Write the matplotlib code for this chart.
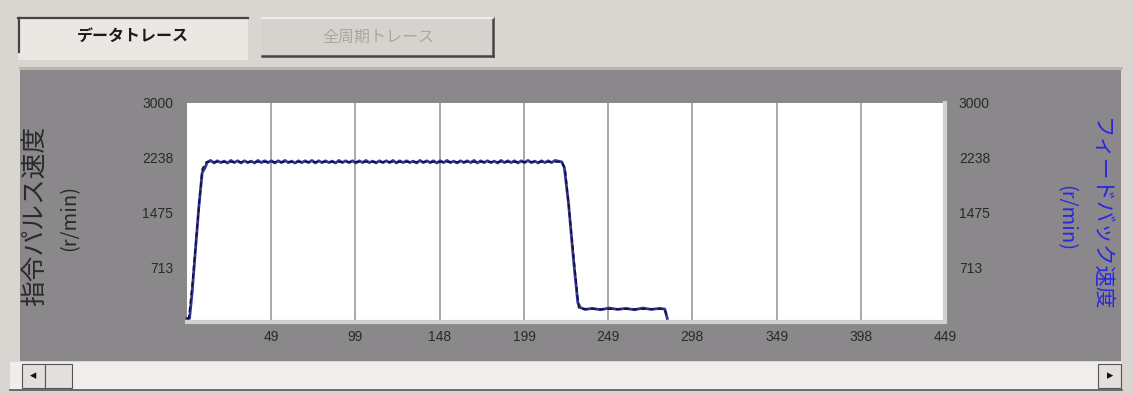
import matplotlib
matplotlib.use("Agg")
import matplotlib.pyplot as plt
from matplotlib.patches import Rectangle

# ---------------- data ----------------
x_ticks = [49.9, 99.8, 149.7, 199.6, 249.4, 299.3, 349.2, 399.1, 449.0]
x_tick_labels = ["49", "99", "148", "199", "249", "298", "349", "398", "449"]
y_ticks = [712.5, 1475, 2237.5, 3000]
y_tick_labels = ["713", "1475", "2238", "3000"]

# command pulse speed (r/min)
cmd_t = [0, 1, 3, 9, 11.5, 222, 224, 232, 234, 283, 284.5]
cmd_v = [0, 0, 450, 2080, 2180, 2180, 2080, 150, 130, 130, 0]

# feedback speed (r/min)
fb_t = [0, 1.5, 3, 5, 7, 9, 10.5,
        12, 14, 16, 18, 20, 22, 24, 26, 28, 30,
        32, 34, 36, 38, 40, 42, 44, 46, 48, 50,
        52, 54, 56, 58, 60, 62, 64, 66, 68, 70,
        72, 74, 76, 78, 80, 82, 84, 86, 88, 90,
        92, 94, 96, 98, 100, 102, 104, 106, 108, 110,
        112, 114, 116, 118, 120, 122, 124, 126, 128, 130,
        132, 134, 136, 138, 140, 142, 144, 146, 148, 150,
        152, 154, 156, 158, 160, 162, 164, 166, 168, 170,
        172, 174, 176, 178, 180, 182, 184, 186, 188, 190,
        192, 194, 196, 198, 200, 202, 204, 206, 208, 210,
        212, 214, 216, 218, 220, 222,
        223.5, 226, 229, 231.5, 233, 236,
        240, 245, 250, 255, 260, 265, 270, 275, 280, 283, 284.5]
fb_v = [0, 0, 350, 950, 1550, 2030, 2090,
        2175, 2200, 2165, 2195, 2170, 2190, 2165, 2200, 2170, 2195,
        2165, 2195, 2170, 2190, 2165, 2200, 2170, 2195, 2170, 2195,
        2165, 2195, 2170, 2200, 2170, 2190, 2165, 2195, 2170, 2195,
        2170, 2200, 2165, 2195, 2170, 2195, 2170, 2190, 2165, 2200,
        2170, 2195, 2170, 2195, 2165, 2195, 2170, 2200, 2170, 2190,
        2165, 2195, 2170, 2195, 2170, 2200, 2165, 2195, 2170, 2195,
        2170, 2190, 2165, 2200, 2170, 2195, 2170, 2195, 2165, 2195,
        2170, 2200, 2170, 2190, 2165, 2195, 2170, 2195, 2170, 2200,
        2165, 2195, 2170, 2195, 2170, 2190, 2165, 2200, 2170, 2195,
        2170, 2195, 2165, 2195, 2170, 2200, 2170, 2190, 2165, 2195,
        2170, 2195, 2170, 2200, 2190, 2180,
        2100, 1600, 800, 220, 150, 125,
        140, 120, 145, 125, 140, 120, 145, 125, 140, 130, 0]

left_label = "指令パルス速度"
right_label = "フィードバック速度"
unit_label = "(r/min)"
tab1_label = "データトレース"
tab2_label = "全周期トレース"

# ---------------- style ----------------
W, H = 1133, 394
BG = "#d9d5d1"
PANEL = "#8b888b"
JP = ["Noto Sans CJK JP", "DejaVu Sans"]
NUM = ["Liberation Sans Narrow", "Liberation Sans", "DejaVu Sans"]

fig = plt.figure(figsize=(W / 100, H / 100), dpi=100, facecolor=BG)


def fx(px):
    return px / W


def fy(py):
    return 1 - py / H


def rect(x0, y0, x1, y1, z=-2, **kw):
    fig.patches.append(Rectangle((fx(x0), fy(y1)), fx(x1 - x0), (y1 - y0) / H,
                                 transform=fig.transFigure, zorder=z, **kw))


def hline(x0, x1, y, color, lw=1.5):
    fig.add_artist(plt.Line2D([fx(x0), fx(x1)], [fy(y), fy(y)], color=color, lw=lw,
                              transform=fig.transFigure, zorder=-1))


def vline(x, y0, y1, color, lw=1.5):
    fig.add_artist(plt.Line2D([fx(x), fx(x)], [fy(y0), fy(y1)], color=color, lw=lw,
                              transform=fig.transFigure, zorder=-1))


# main gray panel
rect(20, 70, 1121, 361, facecolor=PANEL, edgecolor="none", z=-3)
hline(20, 1121, 68, "#b8b4b0", 2)

# tabs
rect(18, 17, 248, 60, facecolor="#ebe8e4", edgecolor="none")
hline(18, 248, 18, "#444444", 1.6)
vline(18.5, 18, 52, "#444444", 1.6)
rect(262, 18, 493, 56, facecolor="#d6d2ce", edgecolor="none")
hline(262, 493, 56, "#444444", 1.8)
vline(492.5, 18, 56, "#444444", 1.8)
hline(262, 493, 18, "#f4f2f0", 1.2)
fig.text(fx(133), fy(37), tab1_label, family=JP, fontsize=11.5, fontweight="bold",
         color="#1a1a1a", ha="center", va="center")
fig.text(fx(378), fy(37), tab2_label, family=JP, fontsize=11.5,
         color="#aaa6a2", ha="center", va="center")

# scrollbar
rect(10, 362, 1122, 390, facecolor="#f0eeec", edgecolor="none", z=-3)
hline(10, 1122, 389.5, "#555555", 1.2)
rect(22, 364, 45, 388, facecolor="#e2dfdc", edgecolor="#555555", lw=0.8)
rect(45, 364, 72, 388, facecolor="#e2dfdc", edgecolor="#555555", lw=0.8)
rect(1098, 364, 1121, 388, facecolor="#e2dfdc", edgecolor="#555555", lw=0.8)
fig.text(fx(33), fy(376), "◂", family="DejaVu Sans", fontsize=9, ha="center", va="center",
         color="#111111")
fig.text(fx(1110), fy(376), "▸", family="DejaVu Sans", fontsize=9, ha="center", va="center",
         color="#111111")

# plot axes
ax = fig.add_axes([fx(187), fy(322), fx(945 - 187), (322 - 103) / H])
ax.set_zorder(5)
ax.set_facecolor("white")
ax.set_xlim(0, 449)
ax.set_ylim(-50, 3000)
ax.set_xticks(x_ticks)
ax.set_xticklabels(x_tick_labels, family=NUM, fontsize=10, color="#2a2a2a")
ax.set_yticks(y_ticks)
ax.set_yticklabels(y_tick_labels, family=NUM, fontsize=10, color="#2a2a2a")
ax.tick_params(axis="both", length=0)
ax.tick_params(axis="x", pad=6)
ax.tick_params(axis="y", pad=10)
ax.grid(axis="x", color="#a9a9a9", lw=1.4)
ax.grid(axis="y", visible=False)
for s in ("left", "top"):
    ax.spines[s].set_visible(False)
for s in ("right", "bottom"):
    ax.spines[s].set_color("#d0d0d0")
    ax.spines[s].set_linewidth(3)

ax.plot(fb_t, fb_v, color="#34349c", lw=2.0, zorder=3, clip_on=False)
ax.plot(cmd_t, cmd_v, color="#111122", lw=1.2, ls=(0, (3, 2)), zorder=4, clip_on=False)

ax2 = ax.twinx()
ax2.set_zorder(6)
ax2.set_ylim(-50, 3000)
ax2.set_yticks(y_ticks)
ax2.set_yticklabels(y_tick_labels, family=NUM, fontsize=10, color="#2a2a2a")
ax2.tick_params(axis="y", length=0, pad=10)
for s in ax2.spines.values():
    s.set_visible(False)

# axis labels
fig.text(fx(35), fy(216), left_label, family=JP, fontsize=18.5, color="#2a2a2a",
         rotation=90, ha="center", va="center")
fig.text(fx(70), fy(218), unit_label, family=JP, fontsize=14.5, color="#2a2a2a",
         rotation=90, ha="center", va="center")
fig.text(fx(1100), fy(215), right_label, family=JP, fontsize=15.5, color="#2828e0",
         rotation=270, ha="center", va="center")
fig.text(fx(1066), fy(218), unit_label, family=JP, fontsize=14.5, color="#2828e0",
         rotation=270, ha="center", va="center")

fig.savefig("out.png", dpi=100, facecolor=BG)
